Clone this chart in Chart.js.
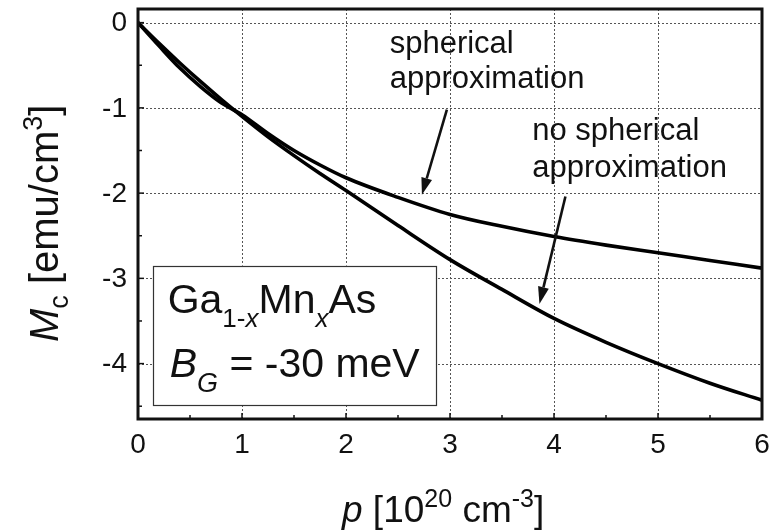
<!DOCTYPE html>
<html>
<head>
<meta charset="utf-8">
<script src="https://cdn.jsdelivr.net/npm/chart.js@4.4.1/dist/chart.umd.min.js"></script>
<style>
html,body{margin:0;padding:0;background:#fff;}
#wrap{width:774px;height:531px;}
</style>
</head>
<body>
<div id="wrap"><canvas id="c" width="774" height="531"></canvas></div>
<script>
// ---- data ----
const P_VALUES = [0, 0.2, 0.4, 0.6, 0.8, 1, 1.25, 1.5, 1.75, 2, 2.5, 3, 3.5, 4, 4.5, 5, 5.5, 6];
const MC_SPHERICAL = [0, -0.27, -0.53, -0.75, -0.94, -1.08, -1.30, -1.50, -1.67, -1.82, -2.05, -2.25, -2.39, -2.51, -2.61, -2.70, -2.79, -2.88];
const MC_NO_SPHERICAL = [0, -0.24, -0.47, -0.69, -0.90, -1.10, -1.34, -1.56, -1.77, -1.97, -2.38, -2.78, -3.13, -3.47, -3.75, -4.00, -4.23, -4.43];
const X_TICKS = [0, 1, 2, 3, 4, 5, 6];
const Y_TICKS = [0, -1, -2, -3, -4];
const X_MINOR = [0.5, 1.5, 2.5, 3.5, 4.5, 5.5];
const Y_MINOR = [-0.5, -1.5, -2.5, -3.5, -4.5];
const X_RANGE = [0, 6];
const Y_RANGE = [-4.65, 0.16];

const FONT = '"Liberation Sans", Arial, Helvetica, sans-serif';
const INK = '#111';

function fontStr(size, italic) { return (italic ? 'italic ' : '') + size + 'px ' + FONT; }

function drawRuns(ctx, runs, x, y, rot) {
  ctx.save();
  ctx.translate(x, y);
  if (rot) ctx.rotate(rot);
  ctx.fillStyle = INK;
  ctx.textAlign = 'left';
  ctx.textBaseline = 'alphabetic';
  let cx = 0;
  for (const r of runs) {
    ctx.font = fontStr(r.size, r.italic);
    ctx.fillText(r.t, cx + (r.dx || 0), r.dy || 0);
    cx += ctx.measureText(r.t).width + (r.dx || 0);
  }
  ctx.restore();
}

function arrow(ctx, x1, y1, x2, y2) {
  const ang = Math.atan2(y2 - y1, x2 - x1);
  const L = 17, W = 5.5;
  const bx = x2 - L * Math.cos(ang), by = y2 - L * Math.sin(ang);
  ctx.save();
  ctx.strokeStyle = INK; ctx.fillStyle = INK; ctx.lineWidth = 2.6;
  ctx.beginPath(); ctx.moveTo(x1, y1); ctx.lineTo(bx, by); ctx.stroke();
  ctx.beginPath();
  ctx.moveTo(x2, y2);
  ctx.lineTo(bx + W * Math.sin(ang), by - W * Math.cos(ang));
  ctx.lineTo(bx - W * Math.sin(ang), by + W * Math.cos(ang));
  ctx.closePath(); ctx.fill();
  ctx.restore();
}

const decor = {
  id: 'decor',
  beforeDraw(chart) {
    const ctx = chart.ctx;
    ctx.save(); ctx.fillStyle = '#fff'; ctx.fillRect(0, 0, chart.width, chart.height); ctx.restore();
  },
  beforeDatasetsDraw(chart) {
    const ctx = chart.ctx, xs = chart.scales.x, ys = chart.scales.y, a = chart.chartArea;
    ctx.save();
    ctx.strokeStyle = '#555'; ctx.lineWidth = 1; ctx.setLineDash([2, 2]);
    for (const v of X_TICKS) {
      if (v <= X_RANGE[0] || v >= X_RANGE[1]) continue;
      const px = Math.round(xs.getPixelForValue(v)) + 0.5;
      ctx.beginPath(); ctx.moveTo(px, a.top); ctx.lineTo(px, a.bottom); ctx.stroke();
    }
    for (const v of Y_TICKS) {
      const py = Math.round(ys.getPixelForValue(v)) + 0.5;
      ctx.beginPath(); ctx.moveTo(a.left, py); ctx.lineTo(a.right, py); ctx.stroke();
    }
    ctx.restore();
    // annotation box
    const bl = xs.getPixelForValue(0.141), br = xs.getPixelForValue(2.865);
    const bt = ys.getPixelForValue(-2.85), bb = ys.getPixelForValue(-4.48);
    ctx.save();
    ctx.fillStyle = '#fff'; ctx.fillRect(bl, bt, br - bl, bb - bt);
    ctx.strokeStyle = '#333'; ctx.lineWidth = 1.2;
    ctx.strokeRect(Math.round(bl) + 0.5, Math.round(bt) + 0.5, Math.round(br - bl), Math.round(bb - bt));
    ctx.restore();
    drawRuns(ctx, [
      { t: 'Ga', size: 41 },
      { t: '1-', size: 26, dy: 14 },
      { t: 'x', size: 26, italic: true, dy: 14 },
      { t: 'Mn', size: 41 },
      { t: 'x', size: 26, italic: true, dy: 14 },
      { t: 'As', size: 41 }
    ], bl + 15, bt + 47);
    drawRuns(ctx, [
      { t: 'B', size: 41, italic: true },
      { t: 'G', size: 27, italic: true, dy: 15 },
      { t: ' = -30 meV', size: 41 }
    ], bl + 17, bt + 111);
  },
  afterDatasetsDraw(chart) {
    const ctx = chart.ctx, xs = chart.scales.x, ys = chart.scales.y, a = chart.chartArea;
    ctx.save();
    ctx.strokeStyle = INK;
    // ticks (inward)
    ctx.lineWidth = 1.5;
    for (const v of X_TICKS) {
      const px = xs.getPixelForValue(v);
      ctx.beginPath(); ctx.moveTo(px, a.bottom); ctx.lineTo(px, a.bottom - 6); ctx.stroke();
    }
    for (const v of X_MINOR) {
      const px = xs.getPixelForValue(v);
      ctx.beginPath(); ctx.moveTo(px, a.bottom); ctx.lineTo(px, a.bottom - 4); ctx.stroke();
    }
    for (const v of Y_TICKS) {
      const py = ys.getPixelForValue(v);
      ctx.beginPath(); ctx.moveTo(a.left, py); ctx.lineTo(a.left + 6, py); ctx.stroke();
    }
    for (const v of Y_MINOR) {
      const py = ys.getPixelForValue(v);
      ctx.beginPath(); ctx.moveTo(a.left, py); ctx.lineTo(a.left + 4, py); ctx.stroke();
    }
    // frame
    ctx.lineWidth = 3;
    ctx.strokeRect(a.left, a.top, a.right - a.left, a.bottom - a.top);
    ctx.restore();

    // tick labels
    ctx.save();
    ctx.fillStyle = INK; ctx.font = fontStr(28, false);
    ctx.textAlign = 'center'; ctx.textBaseline = 'alphabetic';
    for (const v of X_TICKS) ctx.fillText(String(v), xs.getPixelForValue(v), a.bottom + 34);
    ctx.textAlign = 'right'; ctx.textBaseline = 'middle';
    for (const v of Y_TICKS) ctx.fillText(String(v), a.left - 11, ys.getPixelForValue(v) + 1);
    ctx.restore();

    // axis titles
    drawRuns(ctx, [
      { t: 'p', size: 37, italic: true },
      { t: ' [10', size: 37 },
      { t: '20', size: 25, dy: -15 },
      { t: ' cm', size: 37 },
      { t: '-3', size: 25, dy: -15 },
      { t: ']', size: 37 }
    ], 342, 522);
    drawRuns(ctx, [
      { t: 'M', size: 40, italic: true },
      { t: 'c', size: 27, dy: 10 },
      { t: ' [emu/cm', size: 40 },
      { t: '3', size: 27, dy: -16 },
      { t: ']', size: 40 }
    ], 58, 342, -Math.PI / 2);

    // annotations (anchored in data coordinates)
    const P = (x, y) => [xs.getPixelForValue(x), ys.getPixelForValue(y)];
    ctx.save();
    ctx.fillStyle = INK; ctx.font = fontStr(31, false);
    ctx.textAlign = 'left'; ctx.textBaseline = 'alphabetic';
    let q = P(2.42, -0.355); ctx.fillText('spherical', q[0], q[1]);
    q = P(2.42, -0.766); ctx.fillText('approximation', q[0], q[1]);
    q = P(3.79, -1.375); ctx.fillText('no spherical', q[0], q[1]);
    q = P(3.79, -1.81); ctx.fillText('approximation', q[0], q[1]);
    ctx.restore();
    let t1 = P(2.97, -1.02), h1 = P(2.73, -2.02);
    arrow(ctx, t1[0], t1[1], h1[0], h1[1]);
    let t2 = P(4.11, -2.04), h2 = P(3.86, -3.30);
    arrow(ctx, t2[0], t2[1], h2[0], h2[1]);
  }
};

const mk = (arr) => P_VALUES.map((x, i) => ({ x: x, y: arr[i] }));

new Chart(document.getElementById('c'), {
  type: 'line',
  data: {
    datasets: [
      { label: 'spherical approximation', data: mk(MC_SPHERICAL), borderColor: '#000', borderWidth: 3.6, pointRadius: 0, fill: false, cubicInterpolationMode: 'monotone' },
      { label: 'no spherical approximation', data: mk(MC_NO_SPHERICAL), borderColor: '#000', borderWidth: 3.6, pointRadius: 0, fill: false, cubicInterpolationMode: 'monotone' }
    ]
  },
  options: {
    responsive: false,
    animation: false,
    devicePixelRatio: 1,
    layout: { padding: { left: 138, right: 12, top: 9, bottom: 112 } },
    plugins: { legend: { display: false }, tooltip: { enabled: false } },
    scales: {
      x: { type: 'linear', display: false, min: X_RANGE[0], max: X_RANGE[1] },
      y: { type: 'linear', display: false, min: Y_RANGE[0], max: Y_RANGE[1] }
    }
  },
  plugins: [decor]
});
</script>
</body>
</html>
